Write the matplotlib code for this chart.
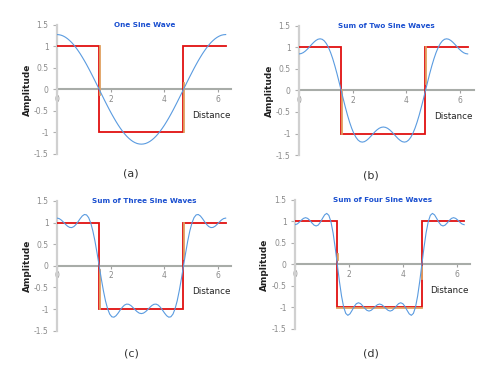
import matplotlib
matplotlib.use('Agg')
import matplotlib.pyplot as plt

# ---------------- data ----------------
distance = [0.000, 0.079, 0.157, 0.236, 0.314, 0.393, 0.471, 0.550, 0.628, 0.707,
            0.785, 0.864, 0.942, 1.021, 1.100, 1.178, 1.257, 1.335, 1.414, 1.492,
            1.571, 1.649, 1.728, 1.806, 1.885, 1.963, 2.042, 2.121, 2.199, 2.278,
            2.356, 2.435, 2.513, 2.592, 2.670, 2.749, 2.827, 2.906, 2.985, 3.063,
            3.142, 3.220, 3.299, 3.377, 3.456, 3.534, 3.613, 3.691, 3.770, 3.848,
            3.927, 4.006, 4.084, 4.163, 4.241, 4.320, 4.398, 4.477, 4.555, 4.634,
            4.712, 4.791, 4.869, 4.948, 5.027, 5.105, 5.184, 5.262, 5.341, 5.419,
            5.498, 5.576, 5.655, 5.733, 5.812, 5.890, 5.969, 6.048, 6.126, 6.205,
            6.283]

one_wave = [1.273, 1.269, 1.258, 1.238, 1.211, 1.176, 1.134, 1.086, 1.030, 0.968,
            0.900, 0.827, 0.748, 0.665, 0.578, 0.487, 0.393, 0.297, 0.199, 0.100,
            0.000,
            -0.100, -0.199, -0.297, -0.393, -0.487, -0.578, -0.665, -0.748, -0.827, -0.900,
            -0.968, -1.030, -1.086, -1.134, -1.176, -1.211, -1.238, -1.258, -1.269, -1.273,
            -1.269, -1.258, -1.238, -1.211, -1.176, -1.134, -1.086, -1.030, -0.968, -0.900,
            -0.827, -0.748, -0.665, -0.578, -0.487, -0.393, -0.297, -0.199, -0.100, 0.000,
            0.100, 0.199, 0.297, 0.393, 0.487, 0.578, 0.665, 0.748, 0.827, 0.900,
            0.968, 1.030, 1.086, 1.134, 1.176, 1.211, 1.238, 1.258, 1.269, 1.273]

two_waves = [0.849, 0.857, 0.879, 0.915, 0.961, 1.014, 1.068, 1.119, 1.161, 1.190,
             1.200, 1.189, 1.152, 1.088, 0.997, 0.879, 0.737, 0.573, 0.392, 0.199,
             0.000,
             -0.199, -0.392, -0.573, -0.737, -0.879, -0.997, -1.088, -1.152, -1.189, -1.200,
             -1.190, -1.161, -1.119, -1.068, -1.014, -0.961, -0.915, -0.879, -0.857, -0.849,
             -0.857, -0.879, -0.915, -0.961, -1.014, -1.068, -1.119, -1.161, -1.190, -1.200,
             -1.189, -1.152, -1.088, -0.997, -0.879, -0.737, -0.573, -0.392, -0.199, 0.000,
             0.199, 0.392, 0.573, 0.737, 0.879, 0.997, 1.088, 1.152, 1.189, 1.200,
             1.190, 1.161, 1.119, 1.068, 1.014, 0.961, 0.915, 0.879, 0.857, 0.849]

three_waves = [1.103, 1.092, 1.059, 1.013, 0.961, 0.916, 0.888, 0.884, 0.907, 0.955,
               1.020, 1.091, 1.152, 1.186, 1.177, 1.115, 0.991, 0.808, 0.572, 0.296,
               0.000,
               -0.296, -0.572, -0.808, -0.991, -1.115, -1.177, -1.186, -1.152, -1.091, -1.020,
               -0.955, -0.907, -0.884, -0.888, -0.916, -0.961, -1.013, -1.059, -1.092, -1.103,
               -1.092, -1.059, -1.013, -0.961, -0.916, -0.888, -0.884, -0.907, -0.955, -1.020,
               -1.091, -1.152, -1.186, -1.177, -1.115, -0.991, -0.808, -0.572, -0.296, 0.000,
               0.296, 0.572, 0.808, 0.991, 1.115, 1.177, 1.186, 1.152, 1.091, 1.020,
               0.955, 0.907, 0.884, 0.888, 0.916, 0.961, 1.013, 1.059, 1.092, 1.103]

four_waves = [0.922, 0.937, 0.977, 1.027, 1.068, 1.085, 1.068, 1.022, 0.963, 0.912,
              0.892, 0.914, 0.979, 1.068, 1.149, 1.184, 1.139, 0.989, 0.734, 0.391,
              0.000,
              -0.391, -0.734, -0.989, -1.139, -1.184, -1.149, -1.068, -0.979, -0.914, -0.892,
              -0.912, -0.963, -1.022, -1.068, -1.085, -1.068, -1.027, -0.977, -0.937, -0.922,
              -0.937, -0.977, -1.027, -1.068, -1.085, -1.068, -1.022, -0.963, -0.912, -0.892,
              -0.914, -0.979, -1.068, -1.149, -1.184, -1.139, -0.989, -0.734, -0.391, 0.000,
              0.391, 0.734, 0.989, 1.139, 1.184, 1.149, 1.068, 0.979, 0.914, 0.892,
              0.912, 0.963, 1.022, 1.068, 1.085, 1.068, 1.027, 0.977, 0.937, 0.922]

square_x = [0.0, 1.571, 1.571, 4.712, 4.712, 6.283]
square_y = [1, 1, -1, -1, 1, 1]

titles = ["One Sine Wave", "Sum of Two Sine Waves",
          "Sum of Three Sine Waves", "Sum of Four Sine Waves"]
captions = ["(a)", "(b)", "(c)", "(d)"]
ytick_values = [-1.5, -1, -0.5, 0, 0.5, 1, 1.5]
ytick_labels = ["-1.5", "-1", "-0.5", "0", "0.5", "1", "1.5"]
xtick_values = [0, 2, 4, 6]
xtick_labels = ["0", "2", "4", "6"]

# orange overlay pieces of the square wave (x pairs, y pairs) per panel
orange_pieces = [
    [([1.59, 1.59], [1, -0.12]), ([4.73, 4.73], [-1, 0.15])],
    [([1.59, 1.59], [0.0, -1]), ([4.73, 4.73], [1, 0.15])],
    [([1.59, 1.59], [-0.1, -1]), ([4.73, 4.73], [1, 0.15])],
    [([1.571, 4.712], [-1.02, -1.02]), ([1.59, 1.59], [0.25, 0.1]), ([4.73, 4.73], [-0.05, -0.35])],
]

curves = [one_wave, two_waves, three_waves, four_waves]

# ---------------- layout / style ----------------
fig = plt.figure(figsize=(5.0, 3.7), dpi=100)
fig.patch.set_facecolor('white')

positions = [
    [0.114, 0.584, 0.349, 0.349],
    [0.598, 0.581, 0.349, 0.349],
    [0.114, 0.106, 0.349, 0.351],
    [0.590, 0.111, 0.350, 0.349],
]
caption_pos = [(0.262, 1 - 173 / 370), (0.742, 1 - 176 / 370),
               (0.262, 1 - 353 / 370), (0.742, 1 - 353 / 370)]

blue = '#5a9be0'
red = '#e01010'
orange = '#e0a060'

for i in range(4):
    ax = fig.add_axes(positions[i])
    ax.set_xlim(0, 6.5)
    ax.set_ylim(-1.5, 1.5)
    ax.patch.set_alpha(0)

    ax.plot(square_x, square_y, color=red, lw=1.3, zorder=3, solid_joinstyle='miter')
    for px, py in orange_pieces[i]:
        ax.plot(px, py, color=orange, lw=1.3, zorder=3.5)
    ax.plot(distance, curves[i], color=blue, lw=0.8, zorder=4)

    for side in ['top', 'right']:
        ax.spines[side].set_visible(False)
    ax.spines['left'].set_color('#d0d0d0')
    ax.spines['left'].set_linewidth(1.6)
    ax.spines['bottom'].set_position(('data', 0))
    ax.spines['bottom'].set_color('#a8aca8')
    ax.spines['bottom'].set_linewidth(1.5)
    ax.spines['bottom'].set_zorder(2)

    ax.set_yticks(ytick_values)
    ax.set_yticklabels(ytick_labels)
    ax.set_xticks(xtick_values)
    ax.set_xticklabels(xtick_labels)
    ax.tick_params(axis='y', direction='out', length=3, width=0.8, color='#b0b0b0',
                   labelsize=5.5, labelcolor='#8a8a8a', pad=3)
    ax.tick_params(axis='x', direction='out', length=2, width=0.8, color='#a0a0a0',
                   labelsize=5.5, labelcolor='#8a8a8a', pad=2)

    ax.text(-0.172, 0.5, "Amplitude", transform=ax.transAxes, rotation=90,
            ha='center', va='center', fontsize=6.5, fontweight='bold', color='#222222')
    ax.text(5.75, -0.6, "Distance", ha='center', va='center', fontsize=6.3,
            color='#222222')
    ax.text(3.25, 1.5, titles[i], ha='center', va='center', fontsize=5.2,
            fontweight='bold', color='#1a4fd0')

    fig.text(caption_pos[i][0], caption_pos[i][1], captions[i], ha='center',
             va='center', fontsize=8, color='#333333')

fig.savefig('out.png', dpi=100, facecolor='white')
